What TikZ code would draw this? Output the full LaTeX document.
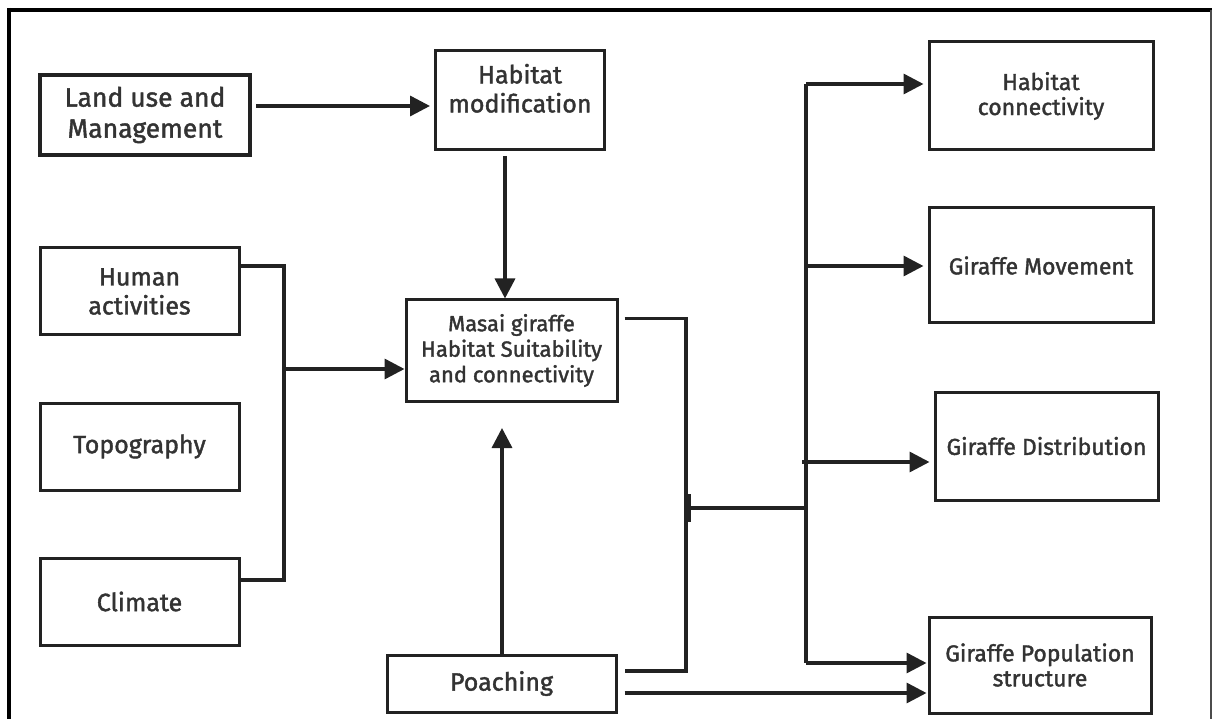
\documentclass[tikz,border=0pt]{standalone}
\usepackage{fontspec}
\setmainfont{Fira Sans}[FakeBold=1.6]
\usetikzlibrary{arrows.meta,calc}
\definecolor{ink}{HTML}{222222}
\definecolor{txt}{HTML}{333333}
\tikzset{
  box/.style={draw=ink, line width=3pt, rectangle, inner sep=0pt, align=center, text=txt,
              font={\fontsize{23}{25}\selectfont}},
  leftbox/.style={box, font={\fontsize{25}{29}\selectfont}},
  bigbox/.style={box, line width=4pt, font={\fontsize{26.5}{31}\selectfont}},
  conn/.style={draw=ink, line width=3.4pt},
  arr/.style={conn, -{Triangle[length=20pt,width=20pt]}},
}
\begin{document}
\begin{tikzpicture}[x=1pt,y=-1pt]
\useasboundingbox (0,0) rectangle (1213,719);
% frame
\draw[line width=4pt, black] (7,10) -- (1212,10);
\draw[line width=3.5pt, black] (9,8) -- (9,719);
\draw[line width=1.2pt, black!70] (1211,10) -- (1211,719);

% boxes
\node[bigbox, minimum width=210pt, minimum height=80pt] (land) at (145,115) {Land use and\\Management};
\node[leftbox, minimum width=169pt, minimum height=99pt] (hmod) at (520,100) {Habitat\\modification\\[-14pt]\strut};
\node[leftbox, minimum width=199pt, minimum height=87pt] (human) at (139.5,291.5) {Human\\activities};
\node[leftbox, minimum width=199pt, minimum height=87pt] (topo) at (139.5,446.5) {Topography};
\node[leftbox, minimum width=199pt, minimum height=87pt] (climate) at (139.5,601.5) {Climate};
\node[box, font={\fontsize{22}{25.5}\selectfont}, minimum width=211pt, minimum height=101pt] (masai) at (511.5,350.5) {Masai giraffe\\Habitat Suitability\\and connectivity};
\node[leftbox, minimum width=229pt, minimum height=57pt] (poach) at (501.5,683.5) {Poaching};
\node[box, minimum width=224pt, minimum height=108pt] (hconn) at (1041,96) {Habitat\\connectivity};
\node[box, minimum width=224pt, minimum height=115pt] (move) at (1041,265.5) {Giraffe Movement};
\node[box, minimum width=223pt, minimum height=108pt] (dist) at (1046.5,446) {Giraffe Distribution};
\node[box, minimum width=222pt, minimum height=96pt] (pop) at (1040,665) {Giraffe Population\\structure};

% junction coordinates
\coordinate (jL) at (284,369);
\coordinate (jR) at (686,508);
\coordinate (vTop) at (806,84);
\coordinate (vMov) at (806,266);
\coordinate (vJ) at (806,508);
\coordinate (vDist) at (802,462);
\coordinate (vBot) at (806,663);
\coordinate (pUp) at (502,428);

% connectors
\draw[arr] ([shift={(4,-9)}]land.east) -- ([shift={(-4,6)}]hmod.west);
\draw[arr] ([shift={(-15,5)}]hmod.south) -- ([shift={(-6.5,0)}]masai.north);
\draw[conn] ([shift={(0,-25.5)}]human.east) -| (jL) |- ([shift={(0,-21.5)}]climate.east);
\draw[arr] (jL) -- (masai.west |- jL);
\draw[arr] ([shift={(0.5,0)}]poach.north) -- (pUp);
\draw[conn] ([shift={(6,-32)}]masai.east) -| (jR) |- ([shift={(7,-12.5)}]poach.east);
\draw[line width=3pt, ink] (689,494) -- (689,522);
\draw[conn] (jR) -- (vJ);
\draw[conn] (vTop) -- (vBot);
\draw[arr] (vTop) -- ([xshift=-4pt]hconn.west |- vTop);
\draw[arr] (vMov) -- ([xshift=-4pt]move.west |- vMov);
\draw[arr] (vDist) -- ([xshift=-4pt]dist.west |- vDist);
\draw[arr] (vBot) -- ([xshift=-1pt]pop.west |- vBot);
\draw[arr] ([shift={(7,9.5)}]poach.east) -- ([xshift=-1pt]pop.west |- 0,693);
\end{tikzpicture}
\end{document}
